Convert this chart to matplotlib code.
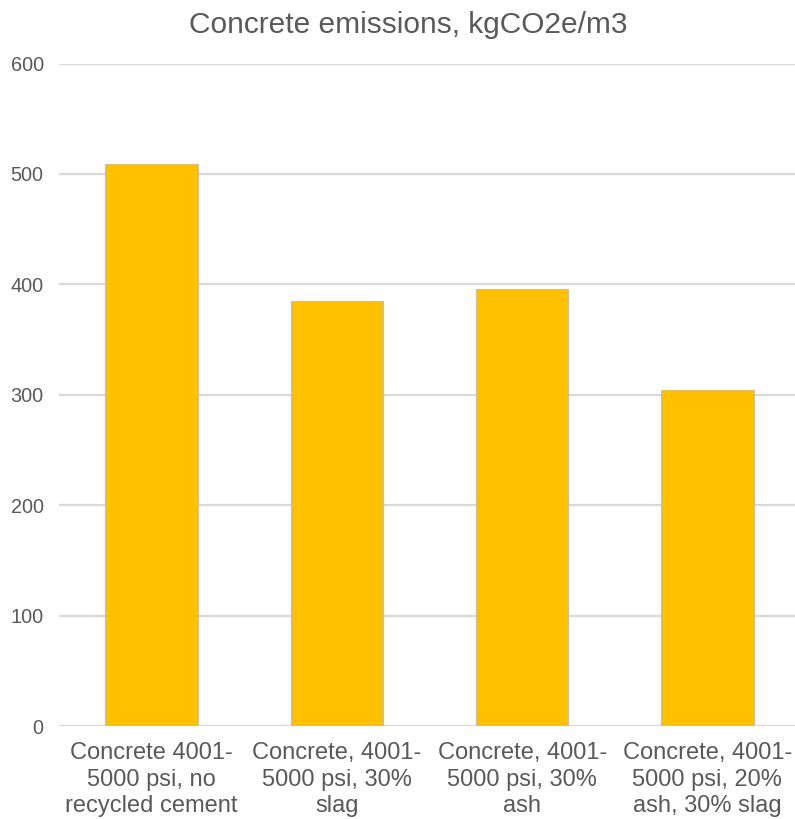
import matplotlib
matplotlib.use("Agg")
import matplotlib.pyplot as plt

categories = [
    "Concrete 4001-\n5000 psi, no\nrecycled cement",
    "Concrete, 4001-\n5000 psi, 30%\nslag",
    "Concrete, 4001-\n5000 psi, 30%\nash",
    "Concrete, 4001-\n5000 psi, 20%\nash, 30% slag",
]
emissions = [509, 385, 396, 304]
y_ticks = [0, 100, 200, 300, 400, 500, 600]

plt.rcParams["font.family"] = ["Liberation Sans", "DejaVu Sans"]
text_color = "#595959"

fig = plt.figure(figsize=(7.95, 8.19), dpi=100)
W, H = 795, 819
left, right = 59, 800
bottom, top = 726, 63.5
ax = fig.add_axes([left / W, (H - bottom) / H, (right - left) / W, (bottom - top) / H])

x = range(len(categories))
ax.bar(x, emissions, width=0.5, color="#FFC000", edgecolor="#BFBFBF",
       linewidth=0.8, zorder=3)

ax.set_xlim(-0.5, len(categories) - 0.5)
ax.set_ylim(0, 600)
ax.set_yticks(y_ticks)
ax.set_yticklabels([str(v) for v in y_ticks])
ax.set_xticks(list(x))
ax.set_xticklabels(categories, linespacing=1.27)

ax.grid(axis="y", color="#D9D9D9", linewidth=1.6, zorder=0)
ax.set_axisbelow(True)
for s in ax.spines.values():
    s.set_visible(False)
ax.tick_params(axis="both", length=0, colors=text_color)
ax.tick_params(axis="y", labelsize=14.3, pad=11)
ax.tick_params(axis="x", labelsize=17, pad=11.5)

fig.text(408 / W, 1 - 25 / H, "Concrete emissions, kgCO2e/m3", ha="center",
         va="center", fontsize=21.5, color=text_color)

fig.savefig("out.png", dpi=100)
